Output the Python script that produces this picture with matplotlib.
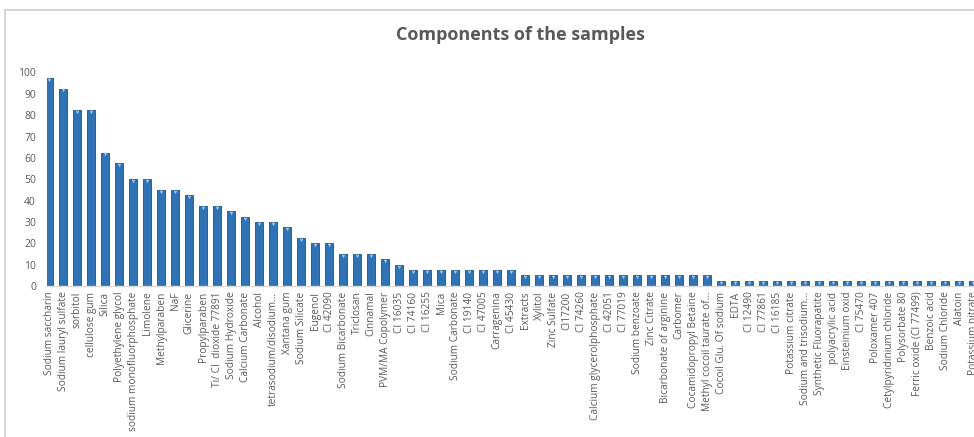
import matplotlib.pyplot as plt
from matplotlib.lines import Line2D

# Ingredients found in the samples and how often (%) each one appears
components = [
    'Sodium saccharin', 'Sodium lauryl sulfate', 'sorbitol', 'cellulose gum', 'Silica',
    'Polyethylene glycol', 'sodium monofluorphosphate', 'Limolene', 'Methylparaben', 'NaF',
    'Glicerine', 'Propylparaben', 'Ti/ CI  dioxide 77891', 'Sodium Hydroxide', 'Calcium Carbonate',
    'Alcohol', 'tetrasodium/disodium...', 'Xantana gum', 'Sodium Silicate', 'Eugenol',
    'CI 42090', 'Sodium Bicarbonate', 'Triclosan', 'Cinnamal', 'PVM/MA Copolymer',
    'CI 16035', 'CI 74160', 'CI 16255', 'Mica', 'Sodium Carbonate',
    'CI 19140', 'CI 47005', 'Carragenina', 'CI 45430', 'Extracts',
    'Xylitol', 'Zinc Sulfate', 'CI17200', 'CI 74260', 'Calcium glycerolphosphate',
    'CI 42051', 'CI 77019', 'Sodium benzoate', 'Zinc Citrate', 'Bicarbonate of arginine',
    'Carbomer', 'Cocamidopropyl Betaine', 'Methyl cocoil taurate of...', 'Cocoil Glu. Of sodium', 'EDTA',
    'CI 12490', 'CI 77861', 'CI 16185', 'Potassium citrate', 'Sodium and trisodium...',
    'Synthetic Fluorapatite', 'polyacrylic acid', 'Einsteinium oxid', 'CI 75470', 'Poloxamer 407',
    'Cetylpyridinium chloride', 'Polysorbate 80', 'Ferric oxide (CI 77499)', 'Benzoic acid', 'Sodium Chloride',
    'Alatoin', 'Potassium nitrate',
]
frequency = [
    97.5, 92.5, 82.5, 82.5, 62.5,
    57.5, 50, 50, 45, 45,
    42.5, 37.5, 37.5, 35, 32.5,
    30, 30, 27.5, 22.5, 20,
    20, 15, 15, 15, 12.5,
    10, 7.5, 7.5, 7.5, 7.5,
    7.5, 7.5, 7.5, 7.5, 5,
    5, 5, 5, 5, 5,
    5, 5, 5, 5, 5,
    5, 5, 5, 2.5, 2.5,
    2.5, 2.5, 2.5, 2.5, 2.5,
    2.5, 2.5, 2.5, 2.5, 2.5,
    2.5, 2.5, 2.5, 2.5, 2.5,
    2.5, 2.5,
]
y_ticks = [0, 10, 20, 30, 40, 50, 60, 70, 80, 90, 100]

text_grey = '#595959'
plt.rcParams['font.family'] = ['Open Sans', 'DejaVu Sans']

fig = plt.figure(figsize=(9.74, 4.37), dpi=100)
ax = fig.add_axes([47 / 974, 151 / 437, 927 / 974, 213.5 / 437])

x = list(range(len(components)))
ax.bar(x, frequency, width=0.57, color='#2E72B8', edgecolor='#1D4F8C', linewidth=0.6)
# small light bevel mark on each bar top
ax.plot(x, [v - 0.9 for v in frequency], linestyle='none', marker='v', markersize=2.6,
        color='#9CC3EA', markeredgewidth=0)

ax.set_xlim(-0.15, 66.05)
ax.set_ylim(0, 100)
ax.set_yticks(y_ticks)
ax.set_yticklabels([str(v) for v in y_ticks], color=text_grey, fontsize=7.5)
ax.set_xticks(x)
ax.set_xticklabels(components, rotation=90, color=text_grey, fontsize=7.3)
ax.tick_params(axis='y', length=0, pad=8)
ax.tick_params(axis='x', length=0, pad=4)

for side in ['top', 'right', 'left']:
    ax.spines[side].set_visible(False)
ax.spines['bottom'].set_color('#d9d9d9')
ax.spines['bottom'].set_linewidth(1.0)

fig.text(520 / 974, 1 - 35 / 437, 'Components of the samples', ha='center', va='center',
         fontsize=13, fontweight='bold', color=text_grey)

# chart frame border (top and left edges)
fig.add_artist(Line2D([5 / 974, 1], [1 - 9.5 / 437, 1 - 9.5 / 437], color='#d0d0d0', lw=1.2))
fig.add_artist(Line2D([5 / 974, 5 / 974], [0, 1 - 9.5 / 437], color='#d0d0d0', lw=1.2))

fig.savefig('out.png', dpi=100)
